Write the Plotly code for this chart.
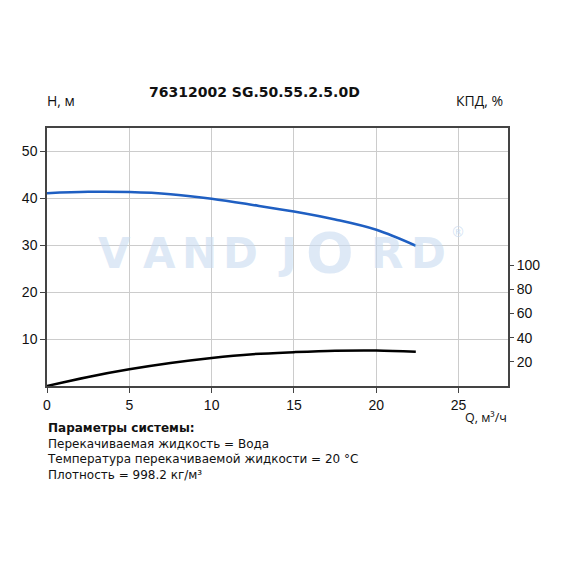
import plotly.graph_objects as go

q_head = [0, 2.5, 5, 7.5, 10, 12.5, 15, 17.5, 20, 22.4]
head = [41.1, 41.4, 41.35, 40.9, 39.9, 38.6, 37.2, 35.5, 33.3, 29.9]

q_eff = [0, 2.5, 5, 7.5, 10, 12.5, 15, 17.5, 20, 22.4]
eff = [0, 7.5, 13.8, 19.0, 23.2, 26.3, 28.0, 29.2, 29.4, 28.3]

x_ticks = [0, 5, 10, 15, 20, 25]
h_ticks = [10, 20, 30, 40, 50]
eff_ticks = [20, 40, 60, 80, 100]

title = "76312002 SG.50.55.2.5.0D"
info_lines = [
    "<b>Параметры системы:</b>",
    "Перекачиваемая жидкость = Вода",
    "Температура перекачиваемой жидкости = 20 °C",
    "Плотность = 998.2 кг/м³",
]
watermark_letters = ["V", "A", "N", "D", "J", "O", "R", "D"]

W = H = 570
ML, MR, MT, MB = 47, 62, 128, 184
PW, PH = W - ML - MR, H - MT - MB


def px(x):
    return (x - ML) / PW


def py(y):
    return (H - y - MB) / PH


TICKFONT = dict(family="Liberation Sans, Arial, sans-serif", size=14, color="#111")
TEXTFONT = "Open Sans, Lato, sans-serif"

fig = go.Figure()
fig.add_trace(go.Scatter(x=q_head, y=head, mode="lines", line=dict(color="#1f5fc2", width=2.5, shape="spline"),
                         showlegend=False, hoverinfo="skip"))
fig.add_trace(go.Scatter(x=q_eff, y=eff, mode="lines", line=dict(color="#000", width=2.5, shape="spline"),
                         yaxis="y2", showlegend=False, hoverinfo="skip"))

fig.update_layout(
    width=W, height=H,
    margin=dict(l=ML, r=MR, t=MT, b=MB),
    paper_bgcolor="white", plot_bgcolor="white",
    xaxis=dict(range=[0, 28], tickvals=x_ticks, showgrid=True, gridcolor="#cccccc", gridwidth=1,
               showline=True, linecolor="#444", linewidth=1.5, mirror=True, ticks="outside", ticklen=5,
               tickcolor="#444", tickfont=TICKFONT, zeroline=False),
    yaxis=dict(range=[0, 55], tickvals=h_ticks, showgrid=True, gridcolor="#cccccc", gridwidth=1,
               showline=True, linecolor="#444", linewidth=1.5, mirror=True, ticks="outside", ticklen=5,
               tickcolor="#444", tickfont=TICKFONT, zeroline=False),
    yaxis2=dict(range=[0, 213.4], tickvals=eff_ticks, overlaying="y", side="right", showgrid=False,
                ticks="outside", ticklen=5, tickcolor="#444", tickfont=TICKFONT, zeroline=False,
                showline=False),
)

ann = []


def add(text, x, y, xanchor="center", size=14, family=TEXTFONT, color="#111", yanchor="middle",
        align="center", weight="normal"):
    ann.append(dict(text=text, x=px(x), y=py(y), xref="paper", yref="paper", xanchor=xanchor,
                    yanchor=yanchor, align=align, showarrow=False, borderpad=0,
                    font=dict(family=family, size=size, color=color, weight=weight)))


add("<b>" + title + "</b>", 254, 92, size=14, family="DejaVu Sans, sans-serif")
add("H, м", 46, 100, xanchor="left", size=14)
add("КПД, %", 504, 100, xanchor="right", size=14)
add("Q, м³/ч", 508, 417, xanchor="right", size=12.5)
add("<br>".join(info_lines), 46, 420, xanchor="left", yanchor="top", align="left", size=12,
    family="DejaVu Sans, sans-serif")

wm_x = [114, 159, 199, 240, 287, 330, 387, 428]
WMCOL = "rgba(200,218,240,0.6)"
for letter, xx in zip(watermark_letters, wm_x):
    if letter == "O":
        add(letter, xx, 252, size=56, family="DejaVu Sans, sans-serif", color=WMCOL, weight="bold")
    else:
        add(letter, xx, 253, size=42, family="DejaVu Sans, sans-serif", color=WMCOL, weight="bold")
add("®", 458, 232, size=14, family="DejaVu Sans, sans-serif", color="rgba(200,218,240,0.8)")

fig.update_layout(annotations=ann)

fig.write_html("out.html", config={"displayModeBar": False},
               post_script="document.body.style.margin='0';")
